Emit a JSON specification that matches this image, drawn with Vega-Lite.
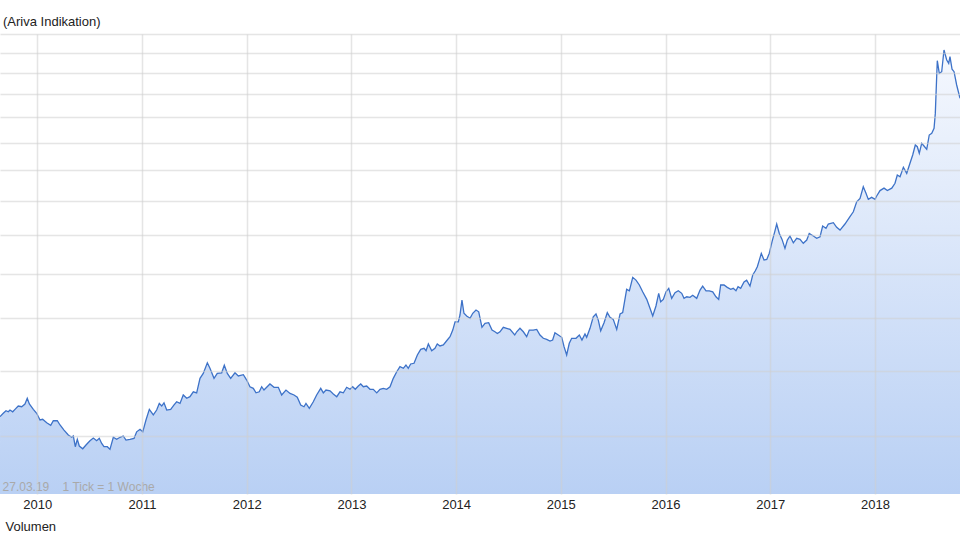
{
  "$schema": "https://vega.github.io/schema/vega-lite/v6.json",
  "width": 960,
  "height": 460,
  "autosize": {"type": "none"},
  "padding": {"left": 0, "top": 34, "right": 0, "bottom": 48},
  "background": "white",
  "config": {
    "view": {"stroke": null},
    "font": "Liberation Sans",
    "axis": {"labelFont": "Liberation Sans", "titleFont": "Liberation Sans"}
  },
  "title": {
    "text": "(Ariva Indikation)",
    "anchor": "start",
    "frame": "group",
    "font": "Liberation Sans",
    "fontSize": 13,
    "fontWeight": "normal",
    "color": "#222222",
    "baseline": "alphabetic",
    "offset": -5,
    "dx": 3
  },
  "datasets": {
    "kurs": [
      {"t":2009.644,"v":42.76},{"t":2009.675,"v":43.26},{"t":2009.701,"v":43.64},{"t":2009.723,"v":43.48},{"t":2009.739,"v":43.75},
      {"t":2009.765,"v":43.48},{"t":2009.787,"v":43.85},{"t":2009.818,"v":44.36},{"t":2009.851,"v":44.25},{"t":2009.882,"v":44.67},
      {"t":2009.904,"v":45.56},{"t":2009.924,"v":44.67},{"t":2009.962,"v":43.85},{"t":2009.994,"v":43.26},{"t":2010.026,"v":42.27},
      {"t":2010.051,"v":42.37},{"t":2010.090,"v":41.86},{"t":2010.128,"v":41.50},{"t":2010.153,"v":42.16},{"t":2010.191,"v":42.16},
      {"t":2010.217,"v":41.55},{"t":2010.255,"v":40.83},{"t":2010.296,"v":40.14},{"t":2010.328,"v":39.82},{"t":2010.344,"v":40.00},
      {"t":2010.363,"v":38.55},{"t":2010.382,"v":39.54},{"t":2010.401,"v":38.64},{"t":2010.434,"v":38.28},{"t":2010.465,"v":38.78},
      {"t":2010.503,"v":39.35},{"t":2010.535,"v":39.72},{"t":2010.567,"v":39.35},{"t":2010.592,"v":39.68},{"t":2010.615,"v":38.99},
      {"t":2010.637,"v":38.55},{"t":2010.669,"v":38.55},{"t":2010.694,"v":38.20},{"t":2010.726,"v":39.82},{"t":2010.758,"v":39.54},
      {"t":2010.790,"v":39.82},{"t":2010.821,"v":40.00},{"t":2010.847,"v":39.45},{"t":2010.885,"v":39.54},{"t":2010.924,"v":39.68},
      {"t":2010.949,"v":40.58},{"t":2010.981,"v":40.93},{"t":2011.007,"v":40.58},{"t":2011.038,"v":42.27},{"t":2011.070,"v":43.85},
      {"t":2011.108,"v":43.01},{"t":2011.140,"v":43.75},{"t":2011.165,"v":44.76},{"t":2011.188,"v":44.36},{"t":2011.210,"v":44.86},
      {"t":2011.236,"v":43.75},{"t":2011.274,"v":43.85},{"t":2011.306,"v":44.52},{"t":2011.331,"v":45.02},{"t":2011.363,"v":44.76},
      {"t":2011.394,"v":46.08},{"t":2011.427,"v":45.56},{"t":2011.458,"v":45.81},{"t":2011.490,"v":46.59},{"t":2011.522,"v":46.42},
      {"t":2011.554,"v":48.80},{"t":2011.585,"v":49.63},{"t":2011.624,"v":51.49},{"t":2011.649,"v":50.52},{"t":2011.688,"v":48.80},
      {"t":2011.719,"v":49.63},{"t":2011.761,"v":49.74},{"t":2011.786,"v":51.05},{"t":2011.815,"v":49.63},{"t":2011.847,"v":48.80},
      {"t":2011.888,"v":49.74},{"t":2011.920,"v":49.20},{"t":2011.968,"v":49.42},{"t":2012.000,"v":48.51},{"t":2012.031,"v":47.41},
      {"t":2012.063,"v":47.15},{"t":2012.089,"v":46.42},{"t":2012.120,"v":46.59},{"t":2012.143,"v":47.41},{"t":2012.165,"v":46.87},
      {"t":2012.222,"v":47.86},{"t":2012.261,"v":47.32},{"t":2012.302,"v":47.32},{"t":2012.334,"v":46.08},{"t":2012.375,"v":46.87},
      {"t":2012.414,"v":46.33},{"t":2012.452,"v":46.08},{"t":2012.483,"v":45.72},{"t":2012.516,"v":44.52},{"t":2012.547,"v":44.25},
      {"t":2012.566,"v":44.76},{"t":2012.598,"v":44.01},{"t":2012.636,"v":45.02},{"t":2012.668,"v":46.08},{"t":2012.707,"v":47.15},
      {"t":2012.732,"v":46.42},{"t":2012.757,"v":46.87},{"t":2012.796,"v":46.75},{"t":2012.827,"v":46.24},{"t":2012.860,"v":45.81},
      {"t":2012.891,"v":46.59},{"t":2012.923,"v":46.42},{"t":2012.955,"v":47.32},{"t":2012.987,"v":46.99},{"t":2013.012,"v":47.41},
      {"t":2013.037,"v":46.99},{"t":2013.066,"v":47.53},{"t":2013.089,"v":47.86},{"t":2013.114,"v":47.41},{"t":2013.146,"v":47.53},
      {"t":2013.178,"v":46.99},{"t":2013.209,"v":46.99},{"t":2013.242,"v":46.42},{"t":2013.273,"v":46.99},{"t":2013.305,"v":47.15},
      {"t":2013.337,"v":46.99},{"t":2013.369,"v":47.41},{"t":2013.400,"v":48.80},{"t":2013.433,"v":49.92},{"t":2013.464,"v":50.80},
      {"t":2013.496,"v":50.52},{"t":2013.521,"v":51.10},{"t":2013.543,"v":50.52},{"t":2013.566,"v":51.28},{"t":2013.598,"v":51.40},
      {"t":2013.630,"v":52.90},{"t":2013.662,"v":53.94},{"t":2013.694,"v":54.13},{"t":2013.713,"v":53.67},{"t":2013.735,"v":54.94},
      {"t":2013.767,"v":53.67},{"t":2013.798,"v":54.13},{"t":2013.820,"v":54.94},{"t":2013.846,"v":54.56},{"t":2013.878,"v":54.75},
      {"t":2013.910,"v":55.56},{"t":2013.942,"v":56.34},{"t":2013.968,"v":57.64},{"t":2013.990,"v":59.30},{"t":2014.021,"v":59.30},
      {"t":2014.037,"v":60.71},{"t":2014.056,"v":63.92},{"t":2014.075,"v":61.07},{"t":2014.101,"v":60.50},{"t":2014.133,"v":60.02},
      {"t":2014.159,"v":61.07},{"t":2014.190,"v":61.76},{"t":2014.216,"v":61.39},{"t":2014.247,"v":58.19},{"t":2014.276,"v":59.01},
      {"t":2014.311,"v":59.13},{"t":2014.343,"v":57.64},{"t":2014.371,"v":57.30},{"t":2014.394,"v":56.97},{"t":2014.419,"v":57.30},
      {"t":2014.451,"v":58.19},{"t":2014.483,"v":57.99},{"t":2014.515,"v":57.78},{"t":2014.560,"v":56.67},{"t":2014.579,"v":57.30},
      {"t":2014.610,"v":57.99},{"t":2014.642,"v":57.30},{"t":2014.674,"v":56.34},{"t":2014.699,"v":57.64},{"t":2014.737,"v":57.64},
      {"t":2014.770,"v":57.78},{"t":2014.801,"v":56.67},{"t":2014.833,"v":56.03},{"t":2014.865,"v":55.83},{"t":2014.897,"v":55.50},
      {"t":2014.922,"v":55.69},{"t":2014.944,"v":57.12},{"t":2014.976,"v":56.67},{"t":2015.009,"v":56.22},{"t":2015.031,"v":54.43},
      {"t":2015.056,"v":52.90},{"t":2015.081,"v":55.07},{"t":2015.104,"v":56.03},{"t":2015.145,"v":56.03},{"t":2015.177,"v":56.67},
      {"t":2015.202,"v":55.69},{"t":2015.231,"v":56.87},{"t":2015.247,"v":56.22},{"t":2015.279,"v":57.99},{"t":2015.310,"v":60.35},
      {"t":2015.336,"v":60.92},{"t":2015.358,"v":59.66},{"t":2015.381,"v":57.50},{"t":2015.413,"v":59.13},{"t":2015.444,"v":61.20},
      {"t":2015.470,"v":60.23},{"t":2015.501,"v":59.81},{"t":2015.534,"v":57.78},{"t":2015.566,"v":60.92},{"t":2015.591,"v":61.20},
      {"t":2015.629,"v":66.33},{"t":2015.655,"v":66.00},{"t":2015.687,"v":69.13},{"t":2015.718,"v":68.48},{"t":2015.750,"v":67.33},
      {"t":2015.782,"v":65.77},{"t":2015.821,"v":64.08},{"t":2015.852,"v":62.13},{"t":2015.878,"v":60.50},{"t":2015.909,"v":62.63},
      {"t":2015.935,"v":65.43},{"t":2015.954,"v":63.54},{"t":2015.979,"v":64.08},{"t":2016.005,"v":65.77},{"t":2016.031,"v":66.56},
      {"t":2016.059,"v":64.30},{"t":2016.091,"v":65.57},{"t":2016.122,"v":66.00},{"t":2016.155,"v":65.43},{"t":2016.177,"v":64.30},
      {"t":2016.203,"v":64.66},{"t":2016.234,"v":64.53},{"t":2016.260,"v":64.98},{"t":2016.298,"v":64.30},{"t":2016.330,"v":66.16},
      {"t":2016.355,"v":67.09},{"t":2016.387,"v":66.00},{"t":2016.418,"v":66.00},{"t":2016.451,"v":65.77},{"t":2016.482,"v":64.66},
      {"t":2016.508,"v":64.08},{"t":2016.527,"v":67.33},{"t":2016.559,"v":67.33},{"t":2016.590,"v":66.79},{"t":2016.623,"v":66.33},
      {"t":2016.647,"v":66.56},{"t":2016.673,"v":66.00},{"t":2016.693,"v":66.93},{"t":2016.718,"v":66.56},{"t":2016.750,"v":68.07},
      {"t":2016.775,"v":68.48},{"t":2016.807,"v":67.09},{"t":2016.833,"v":69.69},{"t":2016.858,"v":70.71},{"t":2016.877,"v":71.71},
      {"t":2016.896,"v":73.37},{"t":2016.915,"v":75.07},{"t":2016.941,"v":73.37},{"t":2016.967,"v":73.55},{"t":2016.991,"v":75.07},
      {"t":2017.017,"v":78.14},{"t":2017.043,"v":80.89},{"t":2017.062,"v":83.09},{"t":2017.087,"v":80.43},{"t":2017.113,"v":78.80},
      {"t":2017.141,"v":76.40},{"t":2017.164,"v":78.61},{"t":2017.189,"v":79.72},{"t":2017.221,"v":77.86},{"t":2017.253,"v":79.08},
      {"t":2017.285,"v":78.80},{"t":2017.316,"v":77.74},{"t":2017.349,"v":78.61},{"t":2017.373,"v":80.43},{"t":2017.412,"v":79.72},
      {"t":2017.444,"v":79.08},{"t":2017.476,"v":79.52},{"t":2017.501,"v":82.52},{"t":2017.533,"v":81.86},{"t":2017.555,"v":83.09},
      {"t":2017.603,"v":83.46},{"t":2017.635,"v":82.15},{"t":2017.667,"v":81.38},{"t":2017.714,"v":83.09},{"t":2017.762,"v":85.21},
      {"t":2017.794,"v":86.66},{"t":2017.826,"v":89.70},{"t":2017.858,"v":90.78},{"t":2017.889,"v":94.49},{"t":2017.915,"v":92.38},
      {"t":2017.937,"v":90.46},{"t":2017.969,"v":91.10},{"t":2018.001,"v":90.46},{"t":2018.017,"v":91.51},{"t":2018.049,"v":93.24},
      {"t":2018.087,"v":94.03},{"t":2018.119,"v":93.24},{"t":2018.161,"v":94.03},{"t":2018.192,"v":95.62},{"t":2018.214,"v":98.39},
      {"t":2018.240,"v":97.81},{"t":2018.272,"v":101.03},{"t":2018.304,"v":98.98},{"t":2018.335,"v":102.44},{"t":2018.361,"v":105.42},
      {"t":2018.386,"v":109.11},{"t":2018.405,"v":108.47},{"t":2018.424,"v":106.04},{"t":2018.447,"v":109.76},{"t":2018.469,"v":108.74},
      {"t":2018.495,"v":107.49},{"t":2018.519,"v":112.94},{"t":2018.543,"v":113.61},{"t":2018.565,"v":115.57},{"t":2018.577,"v":121.68},
      {"t":2018.590,"v":138.09},{"t":2018.596,"v":145.92},{"t":2018.615,"v":139.73},{"t":2018.638,"v":140.49},{"t":2018.660,"v":151.43},
      {"t":2018.686,"v":146.28},{"t":2018.705,"v":144.60},{"t":2018.717,"v":147.96},{"t":2018.737,"v":141.67},{"t":2018.756,"v":140.49},
      {"t":2018.781,"v":134.20},{"t":2018.813,"v":128.18}
    ],
    "hinweis": [
      {"t": 2009.668, "v": 33.56, "label": "27.03.19\u00a0\u00a0\u00a0 1 Tick = 1 Woche"}
    ]
  },
  "layer": [
    {
      "data": {"name": "kurs"},
      "mark": {
        "type": "area",
        "clip": true,
        "fill": {
          "gradient": "linear",
          "x1": 0, "y1": 0, "x2": 0, "y2": 1,
          "stops": [
            {"offset": 0, "color": "#f5f8fe"},
            {"offset": 1, "color": "#b9d0f4"}
          ]
        }
      },
      "encoding": {
        "x": {
          "field": "t",
          "type": "quantitative",
          "scale": {"domain": [2009.6437, 2018.8128], "nice": false, "zero": false},
          "axis": {
            "values": [2010, 2011, 2012, 2013, 2014, 2015, 2016, 2017, 2018],
            "format": "d",
            "title": "Volumen",
            "titleAnchor": "start",
            "titleAlign": "left",
            "titleX": 5,
            "titleFontSize": 13,
            "titleFontWeight": "normal",
            "titleColor": "#222222",
            "titlePadding": 9,
            "labelFontSize": 13,
            "labelColor": "#222222",
            "labelPadding": 4,
            "ticks": false,
            "domain": false,
            "grid": true,
            "gridColor": "#cfcfcf",
            "gridOpacity": 0.55,
            "gridWidth": 1.5,
            "zindex": 1
          }
        },
        "y": {
          "field": "v",
          "type": "quantitative",
          "scale": {"type": "log", "domain": [32.75, 160], "nice": false, "zero": false},
          "axis": {
            "values": [40, 50, 60, 70, 80, 90, 100, 110, 120, 130, 140, 150, 160],
            "labels": false,
            "ticks": false,
            "domain": false,
            "title": null,
            "grid": true,
            "gridColor": "#cfcfcf",
            "gridOpacity": 0.55,
            "gridWidth": 1.5,
            "zindex": 1
          }
        },
        "y2": {"datum": 32.75}
      }
    },
    {
      "data": {"name": "kurs"},
      "mark": {"type": "line", "clip": true, "color": "#3d72c8", "strokeWidth": 1.3},
      "encoding": {
        "x": {"field": "t", "type": "quantitative"},
        "y": {"field": "v", "type": "quantitative"}
      }
    },
    {
      "data": {"name": "hinweis"},
      "mark": {"type": "text", "align": "left", "baseline": "middle", "fontSize": 12, "color": "#a9a9a9", "font": "Liberation Sans"},
      "encoding": {
        "x": {"field": "t", "type": "quantitative"},
        "y": {"field": "v", "type": "quantitative"},
        "text": {"field": "label"}
      }
    }
  ]
}
